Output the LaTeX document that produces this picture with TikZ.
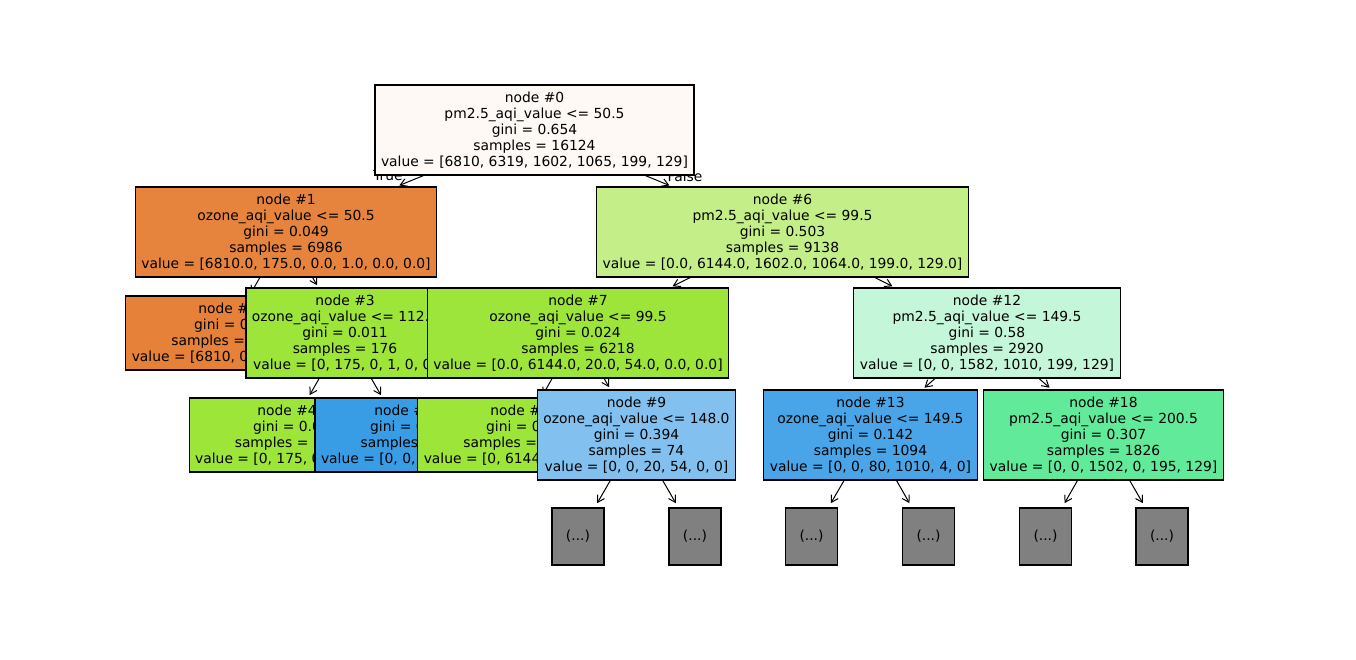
\documentclass[tikz,border=0pt]{standalone}
\usepackage{fontspec}
\setmainfont{DejaVu Sans}
\usetikzlibrary{arrows.meta}
\pgfdeclarelayer{bg}
\pgfsetlayers{bg,main}
\definecolor{cA}{RGB}{254,249,245}
\definecolor{cB}{RGB}{230,132,62}
\definecolor{cC}{RGB}{229,129,57}
\definecolor{cD}{RGB}{158,229,58}
\definecolor{cE}{RGB}{157,229,57}
\definecolor{cF}{RGB}{57,157,229}
\definecolor{cG}{RGB}{196,239,136}
\definecolor{cH}{RGB}{158,229,59}
\definecolor{cI}{RGB}{130,193,239}
\definecolor{cJ}{RGB}{196,247,217}
\definecolor{cK}{RGB}{73,165,231}
\definecolor{cL}{RGB}{96,234,154}
\definecolor{leafgray}{RGB}{128,128,128}
\begin{document}
\begin{tikzpicture}[x=0.75pt,y=-0.75pt,
  tn/.style={draw=black, line width=0.8pt, align=center, inner xsep=4.5pt, inner ysep=0pt,
    font=\fontsize{10.39pt}{12pt}\selectfont, text=black},
  five/.style={tn, minimum height=67.5pt},
  four/.style={tn, minimum height=55.5pt},
  leaf/.style={tn, fill=leafgray, minimum width=39pt, minimum height=42.75pt, inner xsep=0pt},
  edge/.style={-{Straight Barb[length=5pt,width=6pt]}, line width=0.75pt, shorten >=2pt},
  leafedge/.style={edge, shorten >=3.75pt},
  lbl/.style={font=\fontsize{10.39pt}{12pt}\selectfont, inner sep=0pt}
]
\useasboundingbox (0,0) rectangle (1356,660);

\node[five, fill=cA] (n0) at (534.5,130) {node \#0\\pm2.5\_aqi\_value <= 50.5\\gini = 0.654\\samples = 16124\\value = [6810, 6319, 1602, 1065, 199, 129]};
\node[five, fill=cB] (n1) at (286,232) {node \#1\\ozone\_aqi\_value <= 50.5\\gini = 0.049\\samples = 6986\\value = [6810.0, 175.0, 0.0, 1.0, 0.0, 0.0]};
\node[four, fill=cC] (n2) at (228,333) {node \#2\\gini = 0.0\\samples = 6810\\value = [6810, 0, 0, 0, 0, 0]};
\node[five, fill=cD] (n3) at (345,333) {node \#3\\ozone\_aqi\_value <= 112.5\\gini = 0.011\\samples = 176\\value = [0, 175, 0, 1, 0, 0]};
\node[four, fill=cE] (n4) at (287,435) {node \#4\\gini = 0.0\\samples = 175\\value = [0, 175, 0, 0, 0, 0]};
\node[four, fill=cF] (n5) at (404,435) {node \#5\\gini = 0.0\\samples = 1\\value = [0, 0, 0, 1, 0, 0]};
\node[five, fill=cG] (n6) at (782.5,232) {node \#6\\pm2.5\_aqi\_value <= 99.5\\gini = 0.503\\samples = 9138\\value = [0.0, 6144.0, 1602.0, 1064.0, 199.0, 129.0]};
\node[five, fill=cH] (n7) at (578,333) {node \#7\\ozone\_aqi\_value <= 99.5\\gini = 0.024\\samples = 6218\\value = [0.0, 6144.0, 20.0, 54.0, 0.0, 0.0]};
\node[four, fill=cE] (n8) at (520,435) {node \#8\\gini = 0.0\\samples = 6144\\value = [0, 6144, 0, 0, 0, 0]};
\node[five, fill=cI] (n9) at (636.5,435) {node \#9\\ozone\_aqi\_value <= 148.0\\gini = 0.394\\samples = 74\\value = [0, 0, 20, 54, 0, 0]};
\node[leaf] (l1) at (578,536.5) {(...)};
\node[leaf] (l2) at (695,536.5) {(...)};
\node[five, fill=cJ] (n12) at (987,333) {node \#12\\pm2.5\_aqi\_value <= 149.5\\gini = 0.58\\samples = 2920\\value = [0, 0, 1582, 1010, 199, 129]};
\node[five, fill=cK] (n13) at (870.5,435) {node \#13\\ozone\_aqi\_value <= 149.5\\gini = 0.142\\samples = 1094\\value = [0, 0, 80, 1010, 4, 0]};
\node[leaf] (l3) at (811.5,536.5) {(...)};
\node[leaf] (l4) at (928.5,536.5) {(...)};
\node[five, fill=cL] (n18) at (1103.5,435) {node \#18\\pm2.5\_aqi\_value <= 200.5\\gini = 0.307\\samples = 1826\\value = [0, 0, 1502, 0, 195, 129]};
\node[leaf] (l5) at (1045.5,536.5) {(...)};
\node[leaf] (l6) at (1162,536.5) {(...)};

\begin{pgfonlayer}{bg}
\node[lbl] (tlbl) at (388,176) {True};
\node[lbl] (flbl) at (685,176) {False};
\draw[edge] (n0) -- (n1);
\draw[edge] (n0) -- (n6);
\draw[edge] (n1) -- (n2);
\draw[edge] (n1) -- (n3);
\draw[edge] (n3) -- (n4);
\draw[edge] (n3) -- (n5);
\draw[edge] (n6) -- (n7);
\draw[edge] (n6) -- (n12);
\draw[edge] (n7) -- (n8);
\draw[edge] (n7) -- (n9);
\draw[leafedge] (n9) -- (l1);
\draw[leafedge] (n9) -- (l2);
\draw[edge] (n12) -- (n13);
\draw[edge] (n12) -- (n18);
\draw[leafedge] (n13) -- (l3);
\draw[leafedge] (n13) -- (l4);
\draw[leafedge] (n18) -- (l5);
\draw[leafedge] (n18) -- (l6);
\end{pgfonlayer}
\end{tikzpicture}
\end{document}
